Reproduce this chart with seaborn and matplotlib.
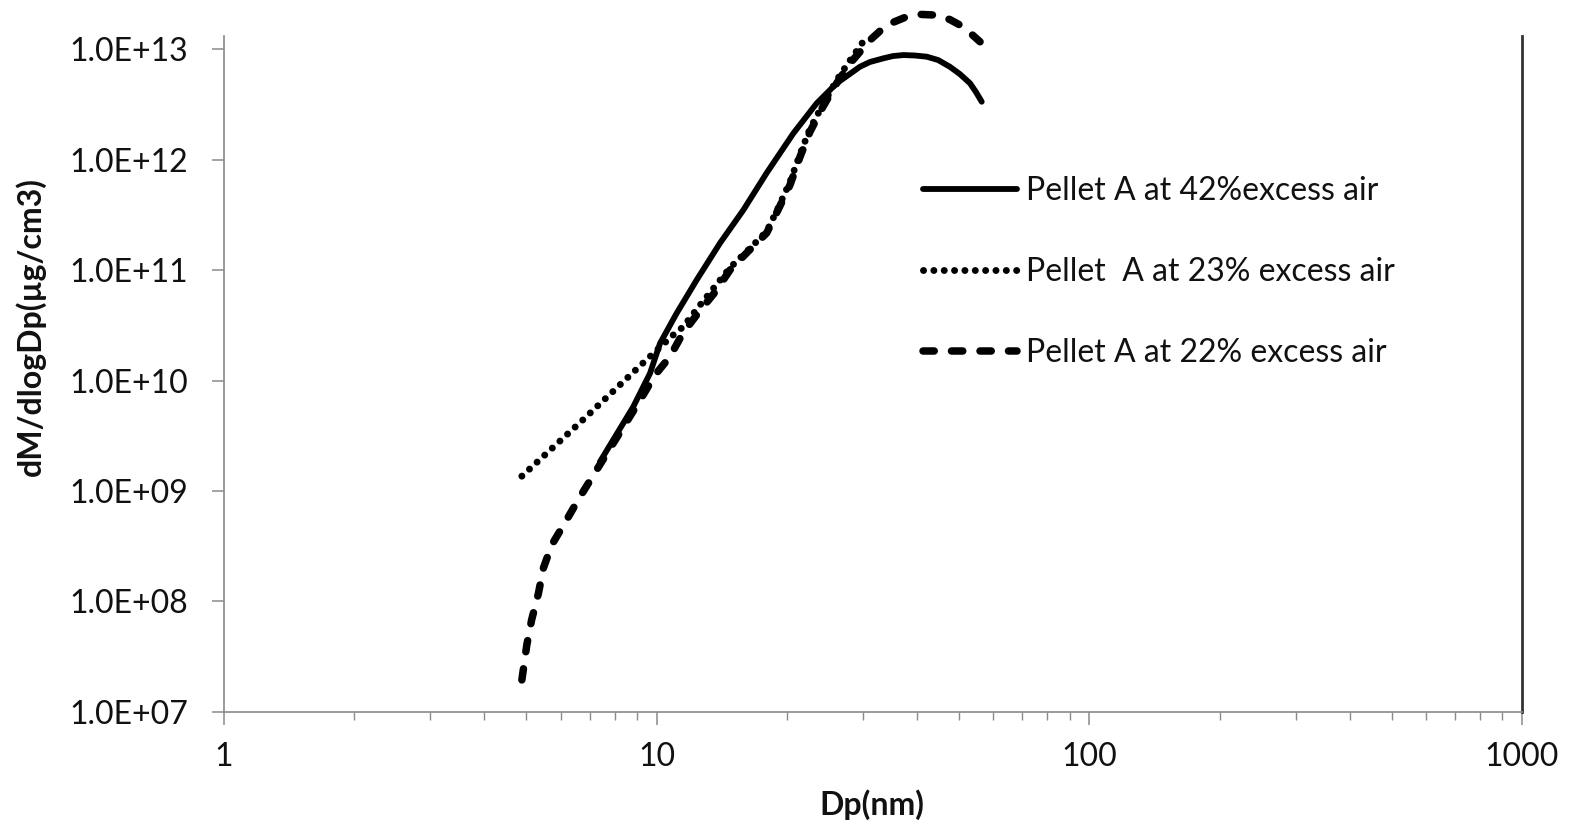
import numpy as np
import pandas as pd
import seaborn as sns
import matplotlib.pyplot as plt
from matplotlib.lines import Line2D
from matplotlib.ticker import LogLocator, FixedLocator, NullFormatter

# data (Dp in nm, dM/dlogDp in ug/cm3)
dp_42 = [7.39, 8.83, 9.65, 10.18, 11.12, 12.37, 14.0, 15.86, 17.96, 20.69,
         23.43, 26.06, 29.5, 31.1, 33.4, 35.2, 37.2, 39.5, 42.1, 44.7, 47.6,
         50.2, 53.0, 54.7, 56.4]
dm_42 = [1.83e9, 5.79e9, 1.16e10, 2.17e10, 4.06e10, 8.13e10, 1.75e11, 3.50e11,
         7.59e11, 1.73e12, 3.24e12, 4.92e12, 6.95e12, 7.67e12, 8.28e12, 8.69e12,
         8.87e12, 8.79e12, 8.57e12, 8.0e12, 6.95e12, 5.97e12, 4.92e12, 4.10e12,
         3.35e12]

dp_23 = [4.88, 6.75, 9.30, 10.9, 11.5, 12.46, 14.77, 16.25, 17.96, 19.07,
         20.33, 21.44, 22.61, 24.23, 26.06, 27.98, 30.4]
dm_23 = [1.36e9, 4.39e9, 1.44e10, 2.57e10, 3.05e10, 4.57e10, 1.05e11, 1.51e11,
         2.24e11, 3.63e11, 6.31e11, 1.12e12, 1.91e12, 3.16e12, 5.25e12, 7.94e12,
         1.26e13]

dp_22 = [4.88, 5.01, 5.14, 5.33, 5.47, 5.72, 6.19, 6.65, 7.51, 9.15, 9.91,
         10.73, 11.50, 12.46, 13.64, 14.77, 16.25, 17.96, 19.07, 20.33, 21.44,
         22.61, 24.23, 26.06, 27.98, 31.12, 34.0, 37.8, 40.8, 44.4, 47.6, 50.2,
         53.0, 55.9]
dm_22 = [1.94e7, 4.02e7, 6.78e7, 1.18e8, 1.99e8, 3.24e8, 5.45e8, 8.85e8,
         1.91e9, 6.61e9, 1.12e10, 1.64e10, 2.69e10, 4.07e10, 6.31e10, 1.0e11,
         1.47e11, 2.17e11, 3.50e11, 5.90e11, 1.06e12, 1.79e12, 3.02e12,
         4.92e12, 7.46e12, 1.21e13, 1.66e13, 1.97e13, 2.07e13, 2.04e13, 1.86e13,
         1.66e13, 1.41e13, 1.17e13]

labels = ["Pellet A at 42%excess air",
          "Pellet  A at 23% excess air",
          "Pellet A at 22% excess air"]

y_ticks = [1e7, 1e8, 1e9, 1e10, 1e11, 1e12, 1e13]
y_tick_labels = ["1.0E+07", "1.0E+08", "1.0E+09", "1.0E+10",
                 "1.0E+11", "1.0E+12", "1.0E+13"]
x_ticks = [1, 10, 100, 1000]
x_tick_labels = ["1", "10", "100", "1000"]

sns.set_theme(style="white")
plt.rcParams["font.family"] = ["Lato", "DejaVu Sans"]

W, H = 1574, 824
fig = plt.figure(figsize=(W / 100, H / 100), dpi=100)
ax = fig.add_axes([224 / W, (H - 711.7) / H, (1522 - 224) / W, (711.7 - 36) / H])

styles = {
    labels[0]: dict(linewidth=4.2, linestyle="-", solid_capstyle="round"),
    labels[1]: dict(linewidth=5.0, linestyle=(0, (0.01, 1.48)), dash_capstyle="round"),
    labels[2]: dict(linewidth=5.4, linestyle=(0, (1.5, 2.3)), dash_capstyle="round"),
}
series = [(dp_42, dm_42), (dp_23, dm_23), (dp_22, dm_22)]
handles = []
for lab, (xs, ys) in zip(labels, series):
    df = pd.DataFrame({"Dp": xs, "dM": ys})
    sns.lineplot(data=df, x="Dp", y="dM", ax=ax, sort=False, estimator=None,
                 color="black", clip_on=False, **styles[lab])
    handles.append(Line2D([], [], color="black", **styles[lab]))

ax.set_xscale("log")
ax.set_yscale("log")
ax.set_xlim(1, 1000)
ax.set_ylim(1e7, 10 ** 13.1205)

ax.yaxis.set_major_locator(FixedLocator(y_ticks))
ax.set_yticklabels(y_tick_labels)
ax.yaxis.set_minor_locator(FixedLocator([]))
ax.xaxis.set_major_locator(FixedLocator(x_ticks))
ax.set_xticklabels(x_tick_labels)
ax.xaxis.set_minor_locator(LogLocator(base=10, subs=np.arange(2, 10)))
ax.xaxis.set_minor_formatter(NullFormatter())

grey = "#8a8a8a"
for s in ["left", "bottom"]:
    ax.spines[s].set_color(grey)
    ax.spines[s].set_linewidth(1.2)
ax.spines["top"].set_visible(False)
ax.spines["right"].set_color("#333333")
ax.spines["right"].set_linewidth(2.0)

fs = 23
ax.tick_params(axis="y", which="major", direction="out", length=9, width=1.1,
               color=grey, pad=17, labelsize=fs, labelcolor="#111111", left=True)
ax.tick_params(axis="x", which="major", direction="out", length=9, width=1.1,
               color=grey, pad=13, labelsize=fs, labelcolor="#111111", bottom=True)
ax.tick_params(axis="x", which="minor", direction="out", length=6, width=1.0,
               color=grey, bottom=True)
ax.set_xlabel("")
ax.set_ylabel("")

fig.text(30 / W, 1 - 327 / H, "dM/dlogDp(µg/cm3)", rotation=90, ha="center",
         va="center", fontsize=fs, fontweight="bold", color="#111111")
fig.text(872 / W, 1 - 805 / H, "Dp(nm)", ha="center", va="center",
         fontsize=fs, fontweight="bold", color="#111111")

leg = ax.legend(handles, labels, loc="upper left",
                bbox_to_anchor=(923 / W, 1 - 176 / H), bbox_transform=fig.transFigure,
                frameon=False, fontsize=fs, handlelength=2.95, handletextpad=0.28,
                labelspacing=1.6, borderpad=0, borderaxespad=0)
for t in leg.get_texts():
    t.set_color("#111111")

fig.savefig("out.png", dpi=100)
